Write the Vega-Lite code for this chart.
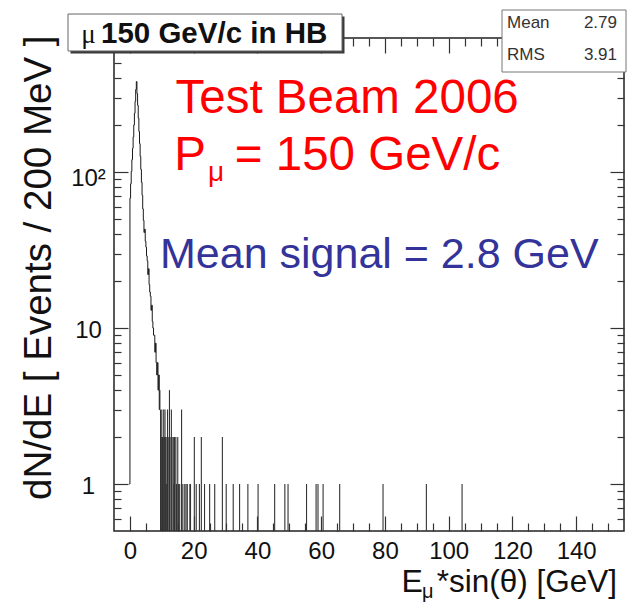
{
  "$schema": "https://vega.github.io/schema/vega-lite/v6.json",
  "width": 510,
  "height": 493,
  "autosize": "none",
  "padding": {"left": 114, "top": 38, "right": 5, "bottom": 71},
  "background": "white",
  "config": {
    "view": {"stroke": "#222222", "strokeWidth": 1.5},
    "font": "Liberation Sans",
    "axis": {
      "domain": false,
      "tickColor": "#333333",
      "tickWidth": 1.2,
      "labelFont": "Liberation Sans",
      "labelFontSize": 24,
      "labelColor": "#111111",
      "grid": false,
      "labelOverlap": false,
      "labelFlush": false,
      "title": null
    }
  },
  "datasets": {
    "peak": [
      {"e": -0.2, "n": 1}, {"e": 0.0, "n": 68}, {"e": 0.2, "n": 84}, {"e": 0.4, "n": 101},
      {"e": 0.6, "n": 120}, {"e": 0.8, "n": 142}, {"e": 1.0, "n": 168}, {"e": 1.2, "n": 200},
      {"e": 1.4, "n": 238}, {"e": 1.6, "n": 284}, {"e": 1.8, "n": 338}, {"e": 2.0, "n": 380},
      {"e": 2.2, "n": 318}, {"e": 2.4, "n": 268}, {"e": 2.6, "n": 222}, {"e": 2.8, "n": 182},
      {"e": 3.0, "n": 152}, {"e": 3.2, "n": 126}, {"e": 3.4, "n": 104}, {"e": 3.6, "n": 86},
      {"e": 3.8, "n": 71}, {"e": 4.0, "n": 58}, {"e": 4.2, "n": 49}, {"e": 4.4, "n": 41},
      {"e": 4.6, "n": 43}, {"e": 4.8, "n": 36}, {"e": 5.0, "n": 33}, {"e": 5.2, "n": 29},
      {"e": 5.4, "n": 27}, {"e": 5.6, "n": 22}, {"e": 5.8, "n": 24}, {"e": 6.0, "n": 19},
      {"e": 6.2, "n": 17}, {"e": 6.4, "n": 16}, {"e": 6.6, "n": 13}, {"e": 6.8, "n": 14},
      {"e": 7.0, "n": 11}, {"e": 7.2, "n": 10}, {"e": 7.4, "n": 9}, {"e": 7.6, "n": 9},
      {"e": 7.8, "n": 7}, {"e": 8.0, "n": 8}, {"e": 8.2, "n": 6}, {"e": 8.4, "n": 5},
      {"e": 8.6, "n": 6}, {"e": 8.8, "n": 4}, {"e": 9.0, "n": 5}, {"e": 9.2, "n": 3},
      {"e": 9.4, "n": 4}
    ],
    "tail": [
      {"e": 9.6, "n": 3}, {"e": 9.8, "n": 2}, {"e": 10.0, "n": 3}, {"e": 10.2, "n": 2},
      {"e": 10.4, "n": 2}, {"e": 10.6, "n": 3}, {"e": 10.8, "n": 2}, {"e": 11.0, "n": 3},
      {"e": 11.2, "n": 2}, {"e": 11.4, "n": 1}, {"e": 11.6, "n": 2}, {"e": 11.8, "n": 3},
      {"e": 12.0, "n": 2}, {"e": 12.4, "n": 4}, {"e": 12.6, "n": 2}, {"e": 13.0, "n": 3},
      {"e": 13.2, "n": 2}, {"e": 13.6, "n": 2}, {"e": 13.8, "n": 1}, {"e": 14.0, "n": 2},
      {"e": 14.4, "n": 2}, {"e": 14.6, "n": 1}, {"e": 15.0, "n": 2}, {"e": 15.2, "n": 1},
      {"e": 15.6, "n": 1}, {"e": 16.2, "n": 3}, {"e": 16.6, "n": 1}, {"e": 17.2, "n": 1},
      {"e": 17.6, "n": 1}, {"e": 18.0, "n": 1}, {"e": 18.8, "n": 1}, {"e": 19.0, "n": 1},
      {"e": 20.2, "n": 2}, {"e": 20.8, "n": 1}, {"e": 21.8, "n": 1}, {"e": 22.4, "n": 2},
      {"e": 23.4, "n": 1}, {"e": 25.0, "n": 1}, {"e": 26.6, "n": 1}, {"e": 29.0, "n": 2},
      {"e": 30.2, "n": 1}, {"e": 32.4, "n": 1}, {"e": 34.4, "n": 1}, {"e": 37.0, "n": 1},
      {"e": 40.2, "n": 1}, {"e": 45.4, "n": 1}, {"e": 48.6, "n": 1}, {"e": 49.6, "n": 1},
      {"e": 55.4, "n": 1}, {"e": 58.4, "n": 1}, {"e": 59.0, "n": 1}, {"e": 60.6, "n": 1},
      {"e": 65.8, "n": 1}, {"e": 79.4, "n": 1}, {"e": 93.0, "n": 1}, {"e": 104.2, "n": 1}
    ]
  },
  "layer": [
    {
      "data": {"name": "peak"},
      "mark": {"type": "line", "interpolate": "step-after", "color": "#1a1a1a", "strokeWidth": 1},
      "encoding": {
        "x": {
          "field": "e", "type": "quantitative",
          "scale": {"domain": [-5, 155], "nice": false, "zero": false},
          "axis": {
            "orient": "bottom",
            "values": [0, 20, 40, 60, 80, 100, 120, 140],
            "offset": -15,
            "tickSize": 15,
            "labelPadding": 8
          }
        },
        "y": {
          "field": "n", "type": "quantitative",
          "scale": {"type": "log", "domain": [0.5, 723], "nice": false},
          "axis": {
            "orient": "left",
            "values": [1, 10, 100],
            "offset": -14,
            "tickSize": 14,
            "labelExpr": "datum.value === 1 ? '1' : datum.value === 10 ? '10' : '10²'",
            "labelAlign": "center",
            "labelBaseline": "middle",
            "labelPadding": 26,
            "labelOffset": {"condition": {"test": "datum.value === 100", "value": 6}, "value": 2},
            "title": "dN/dE [ Events / 200 MeV ]",
            "titleFont": "Liberation Sans",
            "titleFontSize": 38.5,
            "titleFontWeight": "normal",
            "titleColor": "#111111",
            "titleAngle": -90,
            "titleAlign": "right",
            "titleBaseline": "middle",
            "titleX": -90,
            "titleY": -3
          }
        }
      }
    },
    {
      "data": {"name": "tail"},
      "mark": {"type": "rule", "color": "#333333", "strokeWidth": 1.1},
      "encoding": {
        "x": {
          "field": "e", "type": "quantitative",
          "scale": {"domain": [-5, 155], "nice": false, "zero": false},
          "axis": {
            "orient": "top", "labels": false,
            "values": [0, 20, 40, 60, 80, 100, 120, 140],
            "offset": -15,
            "tickSize": 15
          }
        },
        "y": {
          "field": "n", "type": "quantitative",
          "scale": {"type": "log", "domain": [0.5, 723], "nice": false},
          "axis": {
            "orient": "right", "labels": false,
            "values": [1, 10, 100],
            "offset": -14,
            "tickSize": 14
          }
        },
        "y2": {"datum": 0.5}
      }
    },
    {
      "data": {"values": [{"t": "box"}]},
      "mark": {"type": "rect", "fill": "#3a3a3a", "xOffset": 2.5, "yOffset": 2.5, "x2Offset": 2.5, "y2Offset": 2.5},
      "encoding": {
        "x": {
          "datum": -19.43, "type": "quantitative",
          "axis": {
            "orient": "bottom", "labels": false,
            "values": [5,10,15,25,30,35,45,50,55,65,70,75,85,90,95,105,110,115,125,130,135,145,150],
            "offset": -8,
            "tickSize": 8
          }
        },
        "x2": {"datum": 66.53},
        "y": {
          "datum": 1030, "type": "quantitative",
          "axis": {
            "orient": "left", "labels": false,
            "values": [0.6,0.7,0.8,0.9,2,3,4,5,6,7,8,9,20,30,40,50,60,70,80,90,200,300,400,500,600,700],
            "offset": -7,
            "tickSize": 7
          }
        },
        "y2": {"datum": 597}
      }
    },
    {
      "data": {"values": [{"t": "box"}]},
      "mark": {"type": "rect", "fill": "white", "stroke": "#666666", "strokeWidth": 1},
      "encoding": {
        "x": {
          "datum": -19.43, "type": "quantitative",
          "axis": {
            "orient": "top", "labels": false,
            "values": [5,10,15,25,30,35,45,50,55,65,70,75,85,90,95,105,110,115,125,130,135,145,150],
            "offset": -8,
            "tickSize": 8
          }
        },
        "x2": {"datum": 66.53},
        "y": {
          "datum": 1030, "type": "quantitative",
          "axis": {
            "orient": "right", "labels": false,
            "values": [0.6,0.7,0.8,0.9,2,3,4,5,6,7,8,9,20,30,40,50,60,70,80,90,200,300,400,500,600,700],
            "offset": -7,
            "tickSize": 7
          }
        },
        "y2": {"datum": 597}
      }
    },
    {
      "data": {"values": [{"t": "μ"}]},
      "mark": {"type": "text", "align": "left", "baseline": "alphabetic", "fontSize": 27, "font": "Liberation Serif", "color": "#111111"},
      "encoding": {
        "x": {"datum": -15.3, "type": "quantitative", "axis": null},
        "y": {"datum": 671.6, "type": "quantitative", "axis": null},
        "text": {"field": "t"}
      }
    },
    {
      "data": {"values": [{"t": "150 GeV/c in HB"}]},
      "mark": {"type": "text", "align": "left", "baseline": "alphabetic", "fontSize": 29.5, "fontWeight": "bold", "color": "#111111"},
      "encoding": {
        "x": {"datum": -9.08, "type": "quantitative", "axis": null},
        "y": {"datum": 671.6, "type": "quantitative", "axis": null},
        "text": {"field": "t"}
      }
    },
    {
      "data": {"values": [{"t": "stats"}]},
      "mark": {"type": "rect", "fill": "white", "stroke": "#777777", "strokeWidth": 1},
      "encoding": {
        "x": {"datum": 116.73, "type": "quantitative", "axis": null},
        "x2": {"datum": 155.63},
        "y": {"datum": 1093, "type": "quantitative", "axis": null},
        "y2": {"datum": 437.7}
      }
    },
    {
      "data": {"values": [{"t": "Mean"}]},
      "mark": {"type": "text", "align": "left", "baseline": "alphabetic", "fontSize": 17, "color": "#333333"},
      "encoding": {
        "x": {"datum": 118.3, "type": "quantitative", "axis": null},
        "y": {"datum": 838, "type": "quantitative", "axis": null},
        "text": {"field": "t"}
      }
    },
    {
      "data": {"values": [{"t": "2.79"}]},
      "mark": {"type": "text", "align": "right", "baseline": "alphabetic", "fontSize": 17, "color": "#333333"},
      "encoding": {
        "x": {"datum": 152.8, "type": "quantitative", "axis": null},
        "y": {"datum": 838, "type": "quantitative", "axis": null},
        "text": {"field": "t"}
      }
    },
    {
      "data": {"values": [{"t": "RMS"}]},
      "mark": {"type": "text", "align": "left", "baseline": "alphabetic", "fontSize": 17, "color": "#333333"},
      "encoding": {
        "x": {"datum": 118.3, "type": "quantitative", "axis": null},
        "y": {"datum": 522.5, "type": "quantitative", "axis": null},
        "text": {"field": "t"}
      }
    },
    {
      "data": {"values": [{"t": "3.91"}]},
      "mark": {"type": "text", "align": "right", "baseline": "alphabetic", "fontSize": 17, "color": "#333333"},
      "encoding": {
        "x": {"datum": 152.8, "type": "quantitative", "axis": null},
        "y": {"datum": 522.5, "type": "quantitative", "axis": null},
        "text": {"field": "t"}
      }
    },
    {
      "data": {"values": [{"t": "Test Beam 2006"}]},
      "mark": {"type": "text", "align": "left", "baseline": "alphabetic", "fontSize": 47.5, "color": "#ff0000"},
      "encoding": {
        "x": {"datum": 14.3, "type": "quantitative", "axis": null},
        "y": {"datum": 239, "type": "quantitative", "axis": null},
        "text": {"field": "t"}
      }
    },
    {
      "data": {"values": [{"t": "P"}]},
      "mark": {"type": "text", "align": "left", "baseline": "alphabetic", "fontSize": 47.5, "color": "#ff0000"},
      "encoding": {
        "x": {"datum": 13.9, "type": "quantitative", "axis": null},
        "y": {"datum": 103.1, "type": "quantitative", "axis": null},
        "text": {"field": "t"}
      }
    },
    {
      "data": {"values": [{"t": "μ"}]},
      "mark": {"type": "text", "align": "left", "baseline": "alphabetic", "fontSize": 28, "color": "#ff0000"},
      "encoding": {
        "x": {"datum": 24.5, "type": "quantitative", "axis": null},
        "y": {"datum": 87.6, "type": "quantitative", "axis": null},
        "text": {"field": "t"}
      }
    },
    {
      "data": {"values": [{"t": "= 150 GeV/c"}]},
      "mark": {"type": "text", "align": "left", "baseline": "alphabetic", "fontSize": 47.5, "color": "#ff0000"},
      "encoding": {
        "x": {"datum": 32.9, "type": "quantitative", "axis": null},
        "y": {"datum": 103.1, "type": "quantitative", "axis": null},
        "text": {"field": "t"}
      }
    },
    {
      "data": {"values": [{"t": "Mean signal = 2.8 GeV"}]},
      "mark": {"type": "text", "align": "left", "baseline": "alphabetic", "fontSize": 43, "color": "#333399"},
      "encoding": {
        "x": {"datum": 9.43, "type": "quantitative", "axis": null},
        "y": {"datum": 24.27, "type": "quantitative", "axis": null},
        "text": {"field": "t"}
      }
    },
    {
      "data": {"values": [{"t": "E"}]},
      "mark": {"type": "text", "align": "left", "baseline": "alphabetic", "fontSize": 32, "color": "#111111"},
      "encoding": {
        "x": {"datum": 85.2, "type": "quantitative", "axis": null},
        "y": {"datum": 0.2032, "type": "quantitative", "axis": null},
        "text": {"field": "t"}
      }
    },
    {
      "data": {"values": [{"t": "μ"}]},
      "mark": {"type": "text", "align": "left", "baseline": "alphabetic", "fontSize": 20, "color": "#111111"},
      "encoding": {
        "x": {"datum": 91.6, "type": "quantitative", "axis": null},
        "y": {"datum": 0.185, "type": "quantitative", "axis": null},
        "text": {"field": "t"}
      }
    },
    {
      "data": {"values": [{"t": "*sin(θ) [GeV]"}]},
      "mark": {"type": "text", "align": "right", "baseline": "alphabetic", "fontSize": 31.5, "color": "#111111"},
      "encoding": {
        "x": {"datum": 152.8, "type": "quantitative", "axis": null},
        "y": {"datum": 0.2032, "type": "quantitative", "axis": null},
        "text": {"field": "t"}
      }
    }
  ],
  "resolve": {"axis": {"x": "independent", "y": "independent"}}
}
